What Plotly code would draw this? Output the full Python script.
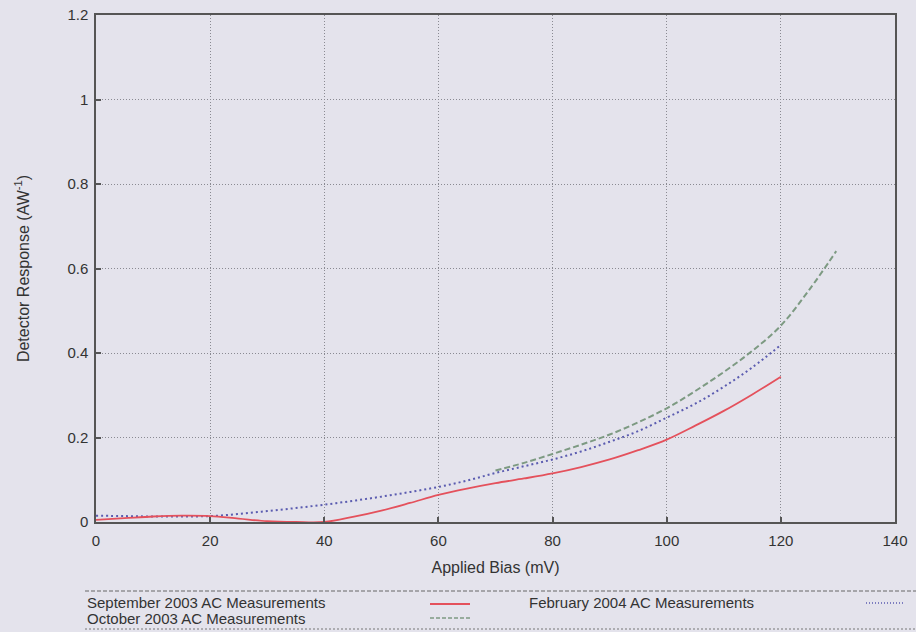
import plotly.graph_objects as go

# ---- data ----
sept_x = [0, 5, 10, 15, 20, 25, 30, 35, 40, 45, 50, 55, 60, 65, 70, 75, 80, 85, 90, 95, 100, 105, 110, 115, 120]
sept_y = [0.005, 0.009, 0.013, 0.015, 0.014, 0.008, 0.002, 0.0, 0.0, 0.012, 0.027, 0.045, 0.064, 0.079, 0.092,
          0.103, 0.115, 0.13, 0.148, 0.17, 0.195, 0.228, 0.263, 0.302, 0.344]

oct_x = [70, 75, 80, 85, 90, 95, 100, 105, 110, 115, 120, 125, 129.7]
oct_y = [0.122, 0.14, 0.161, 0.183, 0.207, 0.236, 0.269, 0.31, 0.355, 0.405, 0.465, 0.55, 0.641]

feb_x = [0, 5, 10, 15, 20, 25, 30, 35, 40, 45, 50, 55, 60, 65, 70, 75, 80, 85, 90, 95, 100, 105, 110, 115, 120]
feb_y = [0.015, 0.014, 0.013, 0.013, 0.014, 0.019, 0.026, 0.033, 0.041, 0.05, 0.06, 0.071, 0.083, 0.098, 0.116,
         0.132, 0.148, 0.167, 0.19, 0.215, 0.247, 0.28, 0.32, 0.366, 0.419]

x_ticks = [0, 20, 40, 60, 80, 100, 120, 140]
y_ticks = [0, 0.2, 0.4, 0.6, 0.8, 1, 1.2]

labels = ["September 2003 AC Measurements", "October 2003 AC Measurements", "February 2004 AC Measurements"]

RED = "#e4515c"
GREEN = "#7d9a82"
BLUE = "#5b5cb0"
BG = "#e4e3ec"
AX = "#555555"
TXT = "#333333"
FONT = "Liberation Sans"

fig = go.Figure()
fig.add_trace(go.Scatter(x=feb_x, y=feb_y, mode="lines", name=labels[2],
                         line=dict(color=BLUE, width=2, dash="2px,3px", shape="spline")))
fig.add_trace(go.Scatter(x=oct_x, y=oct_y, mode="lines", name=labels[1],
                         line=dict(color=GREEN, width=2, dash="6px,3px", shape="spline")))
fig.add_trace(go.Scatter(x=sept_x, y=sept_y, mode="lines", name=labels[0],
                         line=dict(color=RED, width=1.8, shape="spline")))

axis_common = dict(showline=True, linecolor=AX, linewidth=1.5, mirror=True,
                   ticks="inside", ticklen=5, tickcolor=AX, tickwidth=1.5,
                   showgrid=True, gridcolor="#8a8a92", gridwidth=1, griddash="1px,2px",
                   zeroline=False, automargin=False,
                   tickfont=dict(family=FONT, size=15, color=TXT))

fig.update_xaxes(range=[0, 140], tickvals=x_ticks, ticklabelstandoff=4, **axis_common,
                 title=dict(text="Applied Bias (mV)", font=dict(family=FONT, size=16, color=TXT), standoff=14))
fig.update_yaxes(range=[0, 1.2], tickvals=y_ticks, ticklabelstandoff=3, **axis_common,
                 title=dict(text="Detector Response (AW<sup>-1</sup>)", font=dict(family=FONT, size=16, color=TXT),
                            standoff=34))

# ---- custom legend below the plot (text left, sample right) ----
PH = 507.0
PW = 799.0
def px(x):
    return (x - 96) / PW
def py(y):
    return (522 - y) / PH

annos = [
    (labels[0], 85, 602),
    (labels[1], 85, 618),
    (labels[2], 527, 602),
]
for txt, x, y in annos:
    fig.add_annotation(text=txt, xref="paper", yref="paper", x=px(x), y=py(y),
                       xanchor="left", yanchor="middle", showarrow=False,
                       font=dict(family=FONT, size=15, color=TXT))

shapes = [
    dict(type="line", xref="paper", yref="paper", x0=px(430), x1=px(470), y0=py(604), y1=py(604),
         line=dict(color=RED, width=1.8)),
    dict(type="line", xref="paper", yref="paper", x0=px(430), x1=px(470), y0=py(618), y1=py(618),
         line=dict(color=GREEN, width=1.5, dash="4px,2px")),
    dict(type="line", xref="paper", yref="paper", x0=px(866), x1=px(905), y0=py(603), y1=py(603),
         line=dict(color=BLUE, width=1.5, dash="1px,2px")),
    dict(type="line", xref="paper", yref="paper", x0=px(85), x1=px(916), y0=py(591), y1=py(591),
         line=dict(color="#666666", width=1, dash="4px,2px")),
    dict(type="line", xref="paper", yref="paper", x0=px(85), x1=px(916), y0=py(629), y1=py(629),
         line=dict(color="#777777", width=1, dash="2px,2px")),
]
fig.update_layout(shapes=shapes)

fig.update_layout(width=916, height=632, showlegend=False,
                  margin=dict(l=96, r=21, t=15, b=110),
                  paper_bgcolor=BG, plot_bgcolor=BG,
                  font=dict(family=FONT, size=15, color=TXT))

fig.write_html("out.html", config={"displayModeBar": False},
               post_script="document.body.style.margin='0';document.body.style.background='" + BG + "';")
